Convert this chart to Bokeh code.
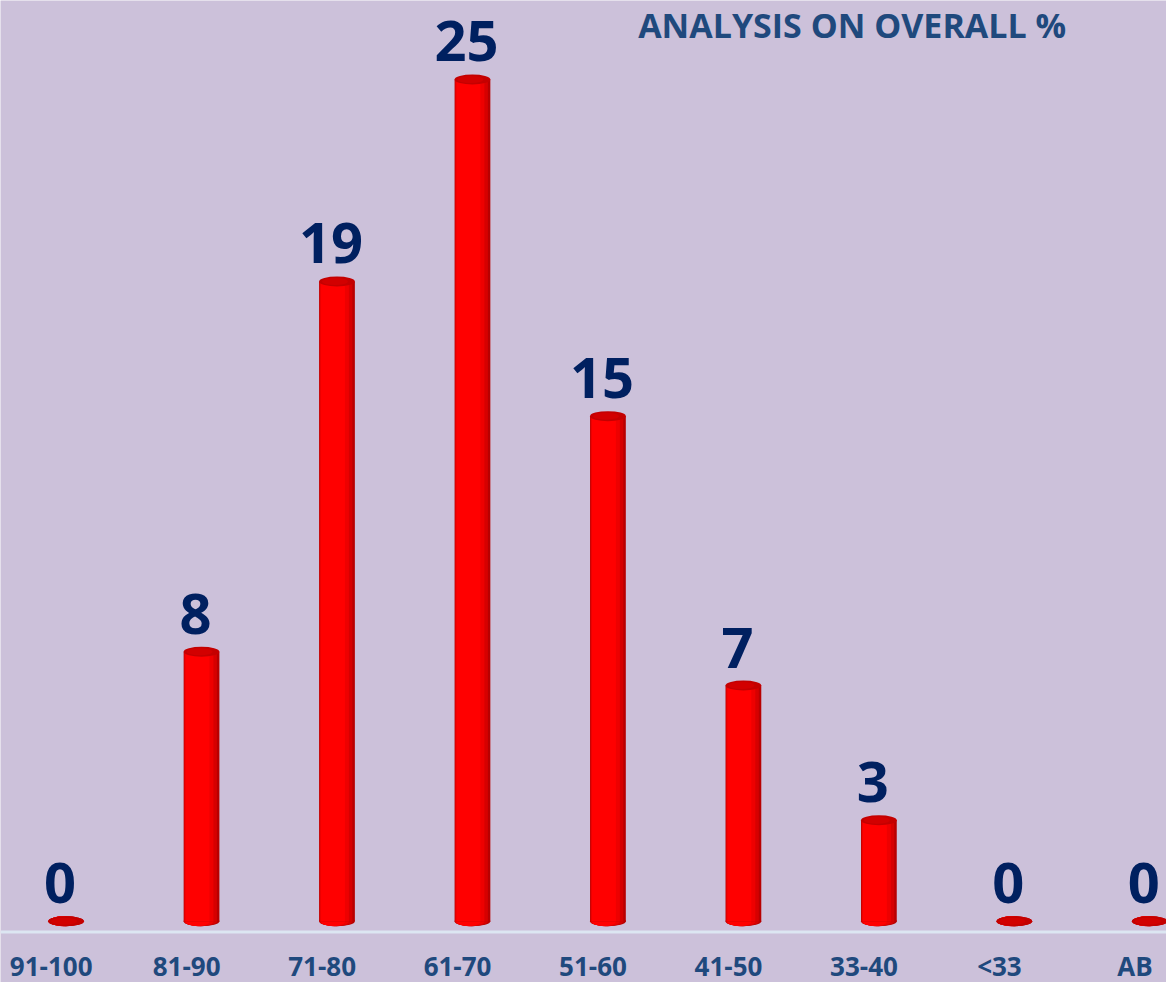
from bokeh.plotting import figure
from bokeh.models import ColumnDataSource, Range1d, FixedTicker, Span, Label
from bokeh.transform import dodge
from bokeh.core.properties import value
from bokeh.embed import file_html
from bokeh.resources import INLINE

categories = ["91-100", "81-90", "71-80", "61-70", "51-60", "41-50", "33-40", "<33", "AB"]
counts = [0, 8, 19, 25, 15, 7, 3, 0, 0]
title_text = "ANALYSIS ON OVERALL %"

idx = list(range(len(categories)))
src = ColumnDataSource(dict(idx=idx, val=counts, lab=[str(c) for c in counts]))

BG = "#CCC1DA"
W, H = 1166, 982
S = W / 1174.0           # layout scale
PX = 1 / (136.4 * S)     # one screen pixel in x data units
PY = 1 / (33.9 * S)      # one screen pixel in y data units
Y0 = 927 * S             # canvas row of value 0
X0 = 51 * S              # canvas column of first category label
SHIFT = 15 * S * PX      # cylinders sit right of their labels

p = figure(width=W, height=H, output_backend="svg", toolbar_location=None,
           x_range=Range1d(-X0 * PX, (W - X0) * PX),
           y_range=Range1d(-(H - Y0) * PY, Y0 * PY),
           min_border_left=0, min_border_right=0, min_border_top=0, min_border_bottom=0)
p.background_fill_color = BG
p.border_fill_color = BG
p.outline_line_color = None
p.xgrid.visible = False
p.ygrid.visible = False
p.yaxis.visible = False

xa = p.xaxis[0]
xa.fixed_location = -(941 - Y0) * PY
xa.ticker = FixedTicker(ticks=idx)
xa.major_label_overrides = {i: c for i, c in zip(idx, categories)}
xa.axis_line_color = None
xa.major_tick_line_color = None
xa.minor_tick_line_color = None
xa.major_label_standoff = 0
xa.major_label_text_font = "Open Sans"
xa.major_label_text_font_style = "bold"
xa.major_label_text_font_size = "26px"
xa.major_label_text_color = "#1F497D"

p.add_layout(Span(location=-(938 * S - Y0) * PY, dimension="width",
                  line_color="#DCE6F2", line_width=3))

# cylinder layers: (width px, offset px, colour)
layers = [(36, 0, "#B80000"), (33, -1, "#D60000"), (29, -2.5, "#EE0000"), (24, -4, "#FF0000")]
for w, off, col in layers:
    p.ellipse(x=dodge("idx", SHIFT + off * PX), y=0, width=w * S * PX, height=10,
              height_units="screen", fill_color=col, line_color=None, source=src)
for w, off, col in layers:
    p.vbar(x=dodge("idx", SHIFT + off * PX), bottom=0, top="val", width=w * S * PX,
           fill_color=col, line_color=None, source=src)
# top caps
p.ellipse(x=dodge("idx", SHIFT), y="val", width=36 * S * PX, height=10, height_units="screen",
          fill_color="#C40000", line_color=None, source=src)
p.ellipse(x=dodge("idx", SHIFT - 2 * PX), y="val", width=26 * S * PX, height=7,
          height_units="screen", fill_color="#D20000", line_color=None, source=src)

p.text(x=dodge("idx", SHIFT - 6 * PX), y=dodge("val", 38 * PY),
       text="lab", text_align="center", text_baseline="middle",
       text_font=value("Open Sans"), text_font_style="bold", text_font_size="56px",
       text_color="#002060", source=src)

p.add_layout(Label(x=(642 * S - X0) * PX, y=(Y0 - 24) * PY, text=title_text,
                   text_align="left", text_baseline="middle",
                   text_font="Open Sans", text_font_style="bold", text_font_size="34px",
                   text_color="#1F497D"))

open("out.html", "w").write(file_html(p, INLINE))
